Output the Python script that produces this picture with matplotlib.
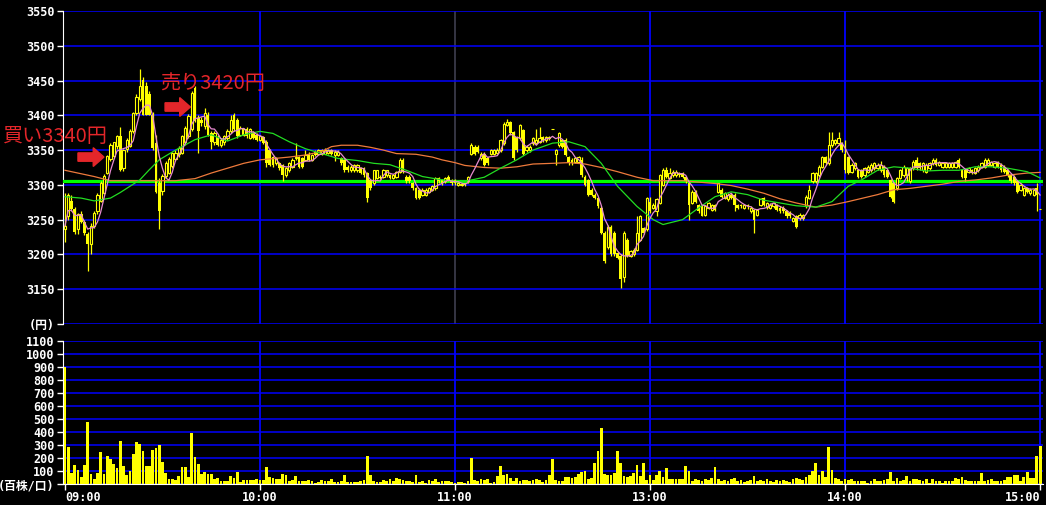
import numpy as np
import pandas as pd
import matplotlib
matplotlib.use("Agg")
import matplotlib.pyplot as plt
from matplotlib.patches import FancyArrow

# 1-minute candles, 09:00 .. 15:00 (lunch break removed)
opens = [
    3236, 3255, 3277, 3265, 3236, 3258, 3246, 3229, 3215, 3241,
    3262, 3277, 3289, 3317, 3337, 3341, 3356, 3370, 3324, 3351,
    3356, 3377, 3403, 3423, 3451, 3442, 3430, 3401, 3360, 3303,
    3291, 3313, 3317, 3327, 3337, 3344, 3346, 3361, 3370, 3380,
    3439, 3396, 3394, 3385, 3401, 3375, 3361, 3368, 3358, 3361,
    3368, 3377, 3401, 3394, 3372, 3372, 3380, 3368, 3375, 3372,
    3365, 3369, 3362, 3350, 3340, 3331, 3331, 3329, 3314, 3321,
    3326, 3338, 3340, 3338, 3336, 3345, 3336, 3348, 3345, 3345,
    3345, 3346, 3350, 3343, 3343, 3338, 3336, 3326, 3321, 3321,
    3321, 3324, 3324, 3317, 3307, 3302, 3310, 3312, 3312, 3314,
    3314, 3310, 3312, 3319, 3336, 3312, 3312, 3302, 3295, 3293,
    3286, 3286, 3290, 3293, 3295, 3310, 3307, 3305, 3312, 3307,
    3307, 3300, 3300, 3302, 3305, 3345, 3355, 3355, 3338, 3345,
    3338, 3345, 3345, 3346, 3350, 3360, 3386, 3390, 3376, 3369,
    3367, 3379, 3350, 3350, 3360, 3360, 3362, 3369, 3364, 3367,
    3380, 3345, 3357, 3364, 3365, 3340, 3336, 3333, 3333, 3336,
    3312, 3307, 3293, 3286, 3281, 3267, 3231, 3210, 3240, 3231,
    3202, 3198, 3167, 3221, 3198, 3200, 3207, 3221, 3238, 3236,
    3276, 3267, 3262, 3274, 3300, 3321, 3310, 3314, 3314, 3317,
    3317, 3311, 3302, 3274, 3290, 3271, 3269, 3257, 3267, 3264,
    3271, 3290, 3293, 3281, 3279, 3286, 3286, 3271, 3271, 3267,
    3271, 3262, 3264, 3257, 3271, 3281, 3268, 3267, 3269, 3271,
    3267, 3267, 3262, 3260, 3248, 3255, 3252, 3252, 3269, 3281,
    3305, 3305, 3314, 3326, 3340, 3331, 3357, 3360, 3360, 3360,
    3345, 3340, 3319, 3324, 3321, 3321, 3314, 3319, 3321, 3324,
    3324, 3321, 3326, 3321, 3307, 3302, 3295, 3310, 3314, 3314,
    3305, 3324, 3336, 3331, 3321, 3319, 3324, 3331, 3336, 3329,
    3326, 3326, 3326, 3326, 3326, 3336, 3321, 3321, 3319, 3321,
    3317, 3321, 3326, 3326, 3329, 3329, 3326, 3333, 3329, 3326,
    3321, 3314, 3312, 3305, 3293, 3286, 3295, 3288, 3286, 3295,
    3265,
]
highs = [
    3289, 3289, 3285, 3268, 3260, 3262, 3250, 3232, 3245, 3262,
    3288, 3305, 3315, 3343, 3360, 3362, 3372, 3383, 3352, 3368,
    3380, 3405, 3430, 3466, 3455, 3448, 3435, 3405, 3372, 3310,
    3315, 3335, 3340, 3348, 3350, 3356, 3372, 3384, 3402, 3435,
    3442, 3400, 3398, 3411, 3405, 3378, 3377, 3372, 3368, 3372,
    3380, 3400, 3403, 3396, 3385, 3382, 3383, 3382, 3378, 3375,
    3372, 3371, 3364, 3352, 3342, 3340, 3333, 3330, 3326, 3333,
    3338, 3360, 3342, 3340, 3350, 3347, 3345, 3350, 3352, 3352,
    3353, 3352, 3352, 3350, 3350, 3340, 3338, 3328, 3328, 3330,
    3330, 3326, 3326, 3319, 3309, 3322, 3322, 3314, 3323, 3322,
    3316, 3316, 3320, 3338, 3338, 3314, 3314, 3304, 3297, 3295,
    3295, 3295, 3297, 3300, 3312, 3312, 3309, 3312, 3314, 3309,
    3309, 3304, 3303, 3303, 3313, 3360, 3357, 3357, 3347, 3347,
    3340, 3352, 3352, 3353, 3366, 3390, 3395, 3392, 3378, 3371,
    3388, 3381, 3357, 3357, 3369, 3381, 3383, 3371, 3371, 3371,
    3380, 3352, 3376, 3366, 3367, 3342, 3338, 3340, 3342, 3340,
    3314, 3309, 3295, 3288, 3283, 3269, 3233, 3242, 3242, 3233,
    3204, 3200, 3233, 3223, 3207, 3209, 3255, 3257, 3240, 3283,
    3283, 3274, 3281, 3316, 3324, 3326, 3324, 3321, 3321, 3319,
    3319, 3313, 3304, 3292, 3292, 3273, 3271, 3271, 3276, 3273,
    3273, 3303, 3295, 3290, 3288, 3288, 3288, 3273, 3273, 3273,
    3273, 3269, 3266, 3266, 3281, 3283, 3276, 3274, 3276, 3273,
    3269, 3269, 3264, 3262, 3254, 3257, 3259, 3258, 3285, 3300,
    3319, 3319, 3328, 3342, 3342, 3376, 3376, 3366, 3376, 3362,
    3364, 3342, 3331, 3333, 3323, 3323, 3326, 3328, 3331, 3333,
    3331, 3335, 3328, 3323, 3309, 3304, 3312, 3323, 3328, 3326,
    3326, 3336, 3340, 3333, 3333, 3331, 3333, 3338, 3338, 3335,
    3333, 3333, 3333, 3333, 3335, 3338, 3323, 3323, 3326, 3323,
    3326, 3328, 3333, 3338, 3338, 3335, 3333, 3335, 3331, 3328,
    3323, 3316, 3314, 3307, 3302, 3297, 3297, 3295, 3295, 3302,
    3265,
]
lows = [
    3218, 3250, 3262, 3230, 3230, 3245, 3228, 3176, 3200, 3238,
    3258, 3275, 3287, 3315, 3335, 3338, 3352, 3320, 3320, 3348,
    3354, 3375, 3400, 3420, 3400, 3400, 3400, 3350, 3289, 3236,
    3285, 3310, 3315, 3325, 3335, 3340, 3344, 3358, 3368, 3378,
    3390, 3346, 3385, 3380, 3370, 3351, 3358, 3356, 3355, 3358,
    3365, 3375, 3378, 3368, 3370, 3370, 3368, 3366, 3366, 3363,
    3363, 3359, 3326, 3327, 3326, 3329, 3322, 3305, 3312, 3319,
    3324, 3336, 3324, 3324, 3334, 3334, 3334, 3341, 3343, 3343,
    3344, 3344, 3343, 3335, 3341, 3329, 3319, 3319, 3319, 3319,
    3319, 3315, 3312, 3276, 3293, 3300, 3308, 3308, 3310, 3312,
    3308, 3308, 3310, 3317, 3317, 3303, 3303, 3293, 3279, 3279,
    3284, 3284, 3288, 3291, 3293, 3303, 3300, 3303, 3305, 3300,
    3300, 3299, 3298, 3299, 3303, 3343, 3343, 3346, 3336, 3327,
    3329, 3343, 3343, 3344, 3348, 3358, 3384, 3372, 3336, 3348,
    3365, 3343, 3348, 3348, 3358, 3358, 3360, 3362, 3362, 3365,
    3380, 3329, 3355, 3353, 3341, 3329, 3329, 3331, 3331, 3312,
    3298, 3284, 3284, 3279, 3267, 3229, 3188, 3208, 3198, 3198,
    3193, 3152, 3160, 3196, 3196, 3198, 3205, 3219, 3229, 3234,
    3260, 3265, 3255, 3272, 3298, 3310, 3308, 3312, 3312, 3312,
    3310, 3303, 3250, 3272, 3274, 3260, 3255, 3255, 3265, 3262,
    3262, 3288, 3281, 3279, 3277, 3279, 3262, 3265, 3267, 3265,
    3266, 3260, 3231, 3255, 3269, 3269, 3266, 3265, 3267, 3262,
    3260, 3260, 3253, 3253, 3246, 3238, 3250, 3250, 3267, 3279,
    3303, 3303, 3312, 3324, 3329, 3329, 3355, 3358, 3358, 3348,
    3317, 3315, 3317, 3322, 3310, 3310, 3312, 3317, 3319, 3322,
    3322, 3319, 3312, 3310, 3281, 3274, 3293, 3308, 3312, 3305,
    3303, 3322, 3322, 3322, 3319, 3317, 3322, 3329, 3327, 3327,
    3324, 3324, 3324, 3324, 3324, 3324, 3310, 3305, 3317, 3315,
    3315, 3319, 3324, 3324, 3327, 3327, 3324, 3324, 3319, 3317,
    3312, 3303, 3300, 3288, 3291, 3284, 3288, 3286, 3284, 3262,
    3265,
]
closes = [
    3241, 3285, 3265, 3232, 3258, 3246, 3231, 3215, 3241, 3260,
    3286, 3303, 3313, 3341, 3358, 3361, 3370, 3322, 3350, 3365,
    3377, 3403, 3427, 3442, 3401, 3401, 3401, 3353, 3290, 3262,
    3313, 3332, 3337, 3346, 3346, 3353, 3370, 3382, 3399, 3432,
    3392, 3377, 3389, 3404, 3372, 3361, 3375, 3358, 3365, 3370,
    3377, 3394, 3380, 3370, 3382, 3380, 3370, 3380, 3368, 3365,
    3370, 3360, 3331, 3329, 3329, 3338, 3324, 3314, 3324, 3331,
    3336, 3340, 3326, 3326, 3343, 3336, 3343, 3343, 3350, 3350,
    3350, 3350, 3345, 3348, 3348, 3331, 3321, 3321, 3326, 3329,
    3329, 3317, 3314, 3281, 3295, 3321, 3321, 3310, 3321, 3321,
    3310, 3314, 3319, 3336, 3319, 3305, 3305, 3295, 3281, 3281,
    3293, 3293, 3295, 3298, 3310, 3305, 3302, 3310, 3307, 3302,
    3302, 3302, 3300, 3300, 3311, 3357, 3345, 3348, 3345, 3329,
    3331, 3350, 3350, 3350, 3364, 3388, 3390, 3374, 3338, 3350,
    3386, 3345, 3355, 3355, 3367, 3364, 3367, 3364, 3369, 3369,
    3380, 3350, 3374, 3355, 3343, 3331, 3331, 3338, 3340, 3314,
    3300, 3286, 3286, 3281, 3269, 3231, 3190, 3240, 3200, 3200,
    3195, 3164, 3231, 3198, 3205, 3207, 3231, 3255, 3231, 3281,
    3262, 3271, 3279, 3314, 3321, 3312, 3317, 3319, 3319, 3314,
    3312, 3305, 3271, 3290, 3276, 3262, 3255, 3269, 3274, 3271,
    3264, 3302, 3283, 3288, 3286, 3281, 3271, 3267, 3269, 3271,
    3269, 3267, 3250, 3264, 3279, 3271, 3274, 3271, 3274, 3264,
    3262, 3262, 3255, 3255, 3252, 3240, 3257, 3256, 3283, 3293,
    3317, 3317, 3326, 3340, 3331, 3357, 3364, 3364, 3367, 3350,
    3321, 3317, 3329, 3331, 3312, 3312, 3324, 3326, 3329, 3331,
    3329, 3329, 3314, 3312, 3283, 3276, 3310, 3321, 3326, 3324,
    3324, 3333, 3324, 3324, 3331, 3329, 3331, 3336, 3329, 3333,
    3331, 3331, 3331, 3331, 3333, 3326, 3312, 3310, 3324, 3317,
    3324, 3326, 3331, 3336, 3336, 3333, 3331, 3326, 3321, 3319,
    3314, 3305, 3302, 3290, 3300, 3295, 3290, 3293, 3293, 3286,
    3265,
]
# volume in 100 shares
volume = [
    900, 287, 85, 149, 110, 59, 149, 479, 80, 41,
    85, 249, 80, 218, 195, 156, 128, 333, 141, 72,
    103, 233, 326, 310, 256, 141, 141, 264, 279, 302,
    172, 87, 41, 41, 33, 64, 133, 133, 56, 395,
    210, 156, 80, 95, 80, 80, 41, 49, 26, 26,
    26, 64, 49, 95, 18, 33, 33, 33, 33, 41,
    33, 33, 133, 56, 49, 41, 41, 80, 72, 26,
    33, 64, 26, 26, 26, 33, 26, 10, 18, 33,
    26, 26, 41, 18, 18, 26, 72, 18, 18, 18,
    18, 26, 33, 218, 72, 26, 18, 18, 33, 26,
    41, 26, 49, 41, 33, 26, 26, 18, 72, 18,
    26, 10, 33, 26, 41, 18, 26, 26, 26, 18,
    10, 18, 18, 10, 26, 203, 33, 26, 41, 33,
    41, 10, 18, 64, 141, 72, 80, 49, 26, 49,
    26, 33, 33, 26, 33, 41, 33, 18, 33, 72,
    195, 33, 28, 23, 54, 54, 46, 59, 77, 97,
    103, 44, 49, 162, 256, 430, 79, 72, 74, 85,
    256, 162, 64, 54, 64, 85, 149, 64, 167, 33,
    72, 33, 72, 103, 54, 126, 38, 38, 38, 38,
    44, 141, 105, 28, 44, 33, 26, 41, 33, 49,
    130, 41, 26, 33, 26, 41, 49, 26, 33, 18,
    26, 33, 64, 26, 33, 26, 41, 26, 18, 33,
    26, 33, 26, 18, 41, 49, 41, 33, 56, 72,
    103, 164, 72, 100, 56, 290, 110, 49, 41, 26,
    41, 33, 41, 28, 23, 28, 28, 13, 23, 41,
    23, 28, 33, 41, 95, 28, 49, 23, 33, 64,
    23, 41, 41, 33, 23, 41, 13, 41, 28, 23,
    13, 23, 28, 28, 49, 41, 56, 33, 23, 23,
    23, 28, 87, 23, 33, 41, 28, 23, 23, 33,
    56, 56, 74, 74, 28, 56, 95, 49, 49, 218,
    295,
]

# longer moving averages (they carry over from the previous session)
ma_mid_x = [0, 5, 9, 14, 17, 19, 23, 26, 29, 34, 40, 45, 50, 55, 60, 64, 69, 74, 79,
            84, 90, 95, 100, 105, 110, 115, 120, 124, 129, 134, 139, 144, 150, 155,
            160, 165, 170, 176, 181, 184, 190, 195, 200, 205, 210, 215, 220, 225,
            231, 236, 241, 245, 250, 255, 260, 265, 270, 275, 280, 285, 290, 296, 300]
ma_mid = [3283, 3281, 3277, 3281, 3289, 3295, 3307, 3322, 3336, 3350, 3365, 3372, 3363,
          3372, 3377, 3374, 3362, 3352, 3345, 3338, 3335, 3331, 3329, 3321, 3312, 3308,
          3305, 3306, 3311, 3324, 3336, 3350, 3360, 3362, 3355, 3331, 3298, 3269, 3250,
          3243, 3250, 3267, 3283, 3290, 3286, 3278, 3274, 3270, 3268, 3276, 3298, 3307,
          3321, 3326, 3324, 3320, 3321, 3321, 3326, 3326, 3324, 3319, 3310]
ma_long_x = [0, 9, 14, 24, 34, 40, 45, 50, 55, 60, 69, 74, 79, 82, 85, 90, 94, 98, 102,
             108, 113, 116, 120, 123, 129, 134, 139, 144, 150, 155, 160, 165, 170, 176,
             181, 190, 200, 205, 210, 215, 220, 225, 231, 236, 241, 250, 255, 260, 265,
             270, 275, 280, 285, 290, 296, 300]
ma_long = [3321, 3312, 3306, 3306, 3306, 3309, 3317, 3324, 3331, 3336, 3340, 3343, 3348,
           3355, 3357, 3357, 3354, 3350, 3345, 3344, 3340, 3336, 3332, 3328, 3325, 3324,
           3326, 3330, 3331, 3332, 3330, 3325, 3319, 3311, 3306, 3306, 3302, 3299, 3294,
           3288, 3280, 3274, 3268, 3271, 3276, 3286, 3293, 3295, 3298, 3301, 3305, 3307,
           3310, 3314, 3317, 3318]
ref_price = 3305

time_ticks = [0, 60, 120, 180, 240, 300]
time_labels = ["09:00", "10:00", "11:00", "13:00", "14:00", "15:00"]
price_ticks = [3100, 3150, 3200, 3250, 3300, 3350, 3400, 3450, 3500, 3550]
price_labels = ["(円)", "3150", "3200", "3250", "3300", "3350", "3400", "3450", "3500", "3550"]
vol_ticks = [0, 100, 200, 300, 400, 500, 600, 700, 800, 900, 1000, 1100]
vol_labels = ["(百株/口)", "100", "200", "300", "400", "500", "600", "700", "800",
              "900", "1000", "1100"]

YELLOW = "#ffff00"
BLUE = "#0000ff"
RED = "#e4262a"

plt.rcParams["font.family"] = ["DejaVu Sans Mono", "Noto Sans CJK JP"]

fig = plt.figure(figsize=(10.46, 5.05), dpi=100, facecolor="black")
ax = fig.add_axes([63 / 1046, 1 - 324 / 505, 980 / 1046, 313 / 505])
axv = fig.add_axes([63 / 1046, 1 - 484.4 / 505, 980 / 1046, 143.7 / 505])

t = np.arange(len(closes))
o, h, l, c = map(np.array, (opens, highs, lows, closes))
up = c >= o
body_low = np.minimum(o, c)
body_h = np.maximum(np.abs(c - o), 0.8)

for a in (ax, axv):
    a.set_facecolor("black")
    for side in ("top", "right"):
        a.spines[side].set_visible(False)
    a.spines["left"].set_color("white")
    a.spines["bottom"].set_color("white")
    a.set_xlim(-0.6, 300.9)
    a.tick_params(axis="y", colors="white", length=4, width=1, pad=2, labelsize=8.5)

# vertical time lines (the 11:00 one is dim in the price panel)
for x in time_ticks[1:]:
    ax.axvline(x, color="#3a3a4a" if x == 120 else BLUE, lw=1.3, zorder=1)
    axv.axvline(x, color=BLUE, lw=1.3, zorder=1)

# price panel
ax.spines["bottom"].set_visible(False)
ax.set_ylim(3100, 3550)
ax.set_yticks(price_ticks)
ax.set_yticklabels(price_labels, fontweight="bold", fontsize=8.5)
ax.grid(axis="y", color=BLUE, lw=1.1, zorder=1)
ax.set_xticks([])

ax.axhline(ref_price, color="#00ff00", lw=2.3, zorder=3)
ax.vlines(t, l, h, color=YELLOW, lw=0.9, zorder=4)
ax.bar(t[~up], body_h[~up], bottom=body_low[~up], width=0.88, color=YELLOW, zorder=5)
ax.bar(t[up], body_h[up], bottom=body_low[up], width=0.66, facecolor="black",
       edgecolor=YELLOW, lw=0.8, zorder=5)

ma_short = pd.Series(closes).rolling(5, min_periods=1).mean()
ax.plot(ma_long_x, ma_long, color="#ee7a3c", lw=0.9, zorder=6)
ax.plot(ma_mid_x, ma_mid, color="#22dd22", lw=0.9, zorder=6)
ax.plot(t, ma_short, color="#e88ad0", lw=0.9, zorder=7)

# trade marks
ax.add_patch(FancyArrow(4, 3340, 8, 0, width=12, head_width=27, head_length=3.3,
                        length_includes_head=True, color=RED, zorder=8))
ax.add_patch(FancyArrow(30.8, 3412, 7.8, 0, width=12, head_width=27, head_length=3.3,
                        length_includes_head=True, color=RED, zorder=8))
ax.text(-19.1, 3370, "買い3340円", color=RED, fontsize=14.5, ha="left", va="center",
        family=["Noto Sans CJK JP"], clip_on=False, zorder=8)
ax.text(29.2, 3446, "売り3420円", color=RED, fontsize=14.5, ha="left", va="center",
        family=["Noto Sans CJK JP"], clip_on=False, zorder=8)

# volume panel
axv.set_ylim(0, 1100)
axv.set_yticks(vol_ticks)
axv.set_yticklabels(vol_labels, fontweight="bold", fontsize=8.5)
axv.grid(axis="y", color=BLUE, lw=1.1, zorder=1)
axv.bar(t, volume, width=0.88, color=YELLOW, zorder=3)
axv.set_xticks(time_ticks)
axv.set_xticklabels(time_labels, fontweight="bold", fontsize=8.5)
axv.tick_params(axis="x", colors="white", length=4, width=1, pad=1)
xl = axv.get_xticklabels()
xl[0].set_ha("left")
xl[-1].set_ha("right")

fig.savefig("out.png", dpi=100, facecolor="black")
